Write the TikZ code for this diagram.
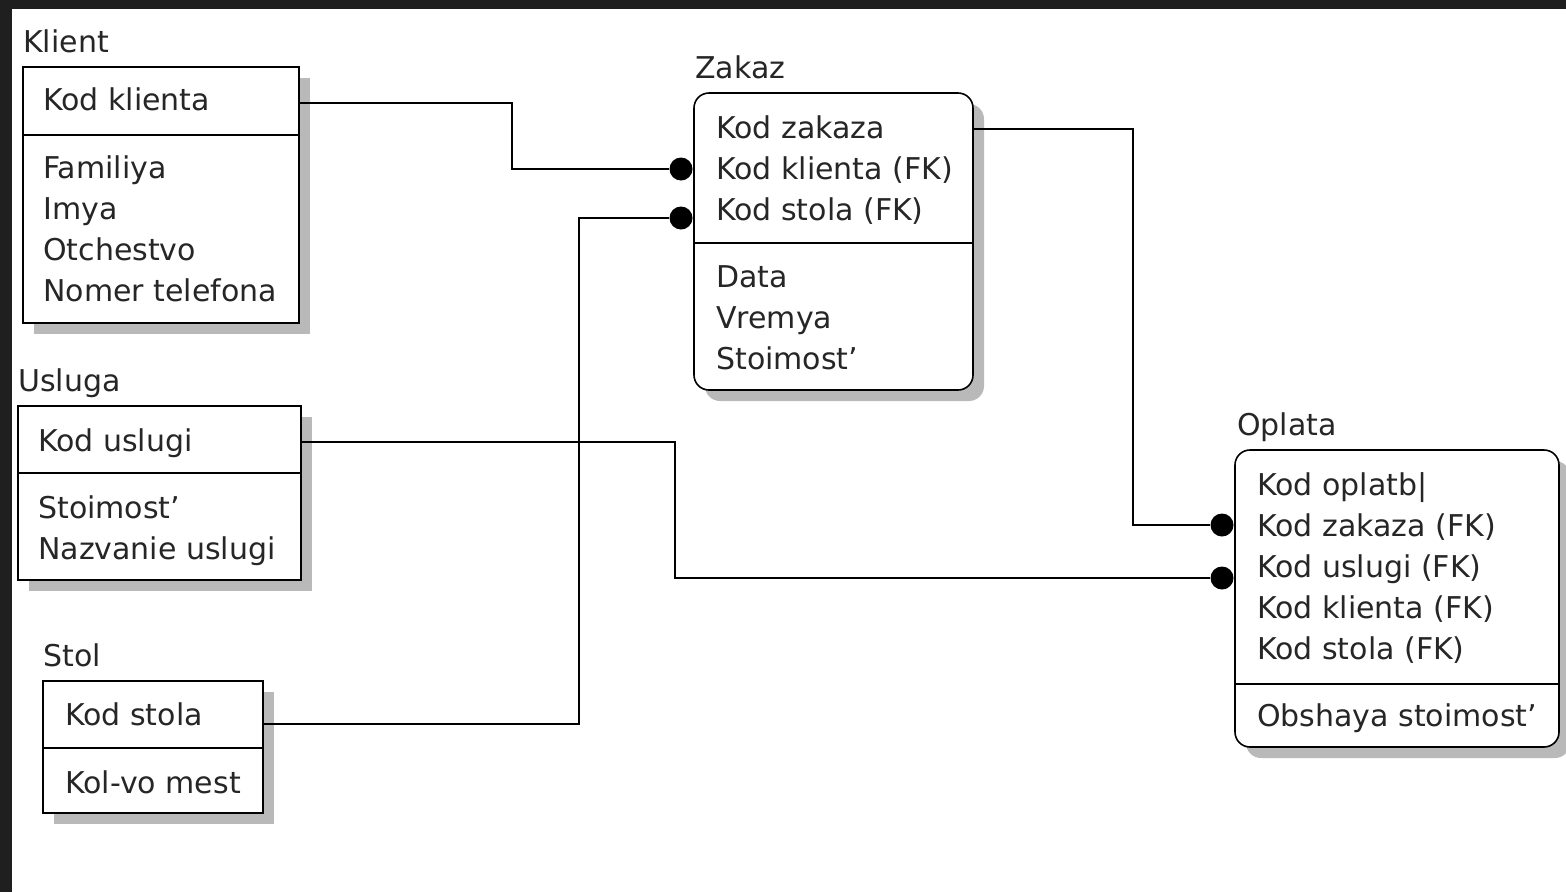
\documentclass[tikz,border=0pt]{standalone}
\usepackage{fontspec}
\setmainfont{DejaVu Sans}
\usetikzlibrary{shadows,positioning}

\begin{document}
\begin{tikzpicture}[x=1pt,y=-1pt,
    entity/.style={draw, line width=1.6pt, fill=white, anchor=north west, inner sep=0pt, outer sep=0pt,
        drop shadow={shadow xshift=11pt, shadow yshift=-11pt, fill=gray!55, opacity=1}},
    roundent/.style={entity, rounded corners=15pt},
    enttitle/.style={anchor=base west, inner sep=0pt, font=\fontsize{30}{36}\selectfont, text=black!85},
    attr/.style={enttitle},
    divider/.style={line width=1.6pt},
    conn/.style={line width=1.5pt},
    fkdot/.style={circle, fill=black, inner sep=0pt, minimum size=23pt}]

    % Background frame
    \useasboundingbox (0,0) rectangle (1566,892);
    \fill[black!88] (0,0) rectangle (1566,892);
    \fill[white] (12,9) rectangle (1566,892);

    % Klient
    \node[enttitle] (klientname) at (23,52) {Klient};
    \node[entity, minimum width=276pt, minimum height=256pt] (klient) at (23,67) {};
    \draw[divider] (klient.west |- 0,135) -- (klient.east |- 0,135);
    \node[attr] (klient-0) at (43,110) {Kod klienta};
    \foreach \t [count=\i] in {Familiya,Imya,Otchestvo,Nomer telefona}
        \node[attr] (klient-\i) at (43,{137+41*\i}) {\t};

    % Usluga
    \node[enttitle] (usluganame) at (18,391) {Usluga};
    \node[entity, minimum width=283pt, minimum height=174pt] (usluga) at (18,406) {};
    \draw[divider] (usluga.west |- 0,473) -- (usluga.east |- 0,473);
    \node[attr] (usluga-0) at (38,451) {Kod uslugi};
    \foreach \t [count=\i] in {Stoimost',Nazvanie uslugi}
        \node[attr] (usluga-\i) at (38,{477+41*\i}) {\t};

    % Stol
    \node[enttitle] (stolname) at (43,666) {Stol};
    \node[entity, minimum width=220pt, minimum height=132pt] (stol) at (43,681) {};
    \draw[divider] (stol.west |- 0,748) -- (stol.east |- 0,748);
    \node[attr] (stol-0) at (65,725) {Kod stola};
    \node[attr] (stol-1) at (65,793) {Kol-vo mest};

    % Zakaz
    \node[enttitle] (zakazname) at (695,78) {Zakaz};
    \node[roundent, minimum width=279pt, minimum height=297pt] (zakaz) at (694,93) {};
    \draw[divider] (zakaz.west |- 0,243) -- (zakaz.east |- 0,243);
    \foreach \t [count=\i] in {Kod zakaza,Kod klienta (FK),Kod stola (FK)}
        \node[attr] (zakaz-k\i) at (716,{97+41*\i}) {\t};
    \foreach \t [count=\i] in {Data,Vremya,Stoimost'}
        \node[attr] (zakaz-\i) at (716,{246+41*\i}) {\t};

    % Oplata
    \node[enttitle] (oplataname) at (1237,435) {Oplata};
    \node[roundent, minimum width=324pt, minimum height=297pt] (oplata) at (1235,450) {};
    \draw[divider] (oplata.west |- 0,684) -- (oplata.east |- 0,684);
    \foreach \t [count=\i] in {Kod oplatb|,Kod zakaza (FK),Kod uslugi (FK),Kod klienta (FK),Kod stola (FK)}
        \node[attr] (oplata-k\i) at (1257,{454+41*\i}) {\t};
    \node[attr] (oplata-1) at (1257,726) {Obshaya stoimost'};

    % FK dots
    \node[fkdot] (zakaz-fk1) at (681,169) {};
    \node[fkdot] (zakaz-fk2) at (681,218) {};
    \node[fkdot] (oplata-fk1) at (1222,525) {};
    \node[fkdot] (oplata-fk2) at (1222,578) {};

    % Relations
    \draw[conn] (klient.east |- 0,103) -| (512,169) -- (zakaz-fk1);
    \draw[conn] (stol.east |- 0,724) -| (579,218) -- (zakaz-fk2);
    \draw[conn] (zakaz.east |- 0,129) -| (1133,525) -- (oplata-fk1);
    \draw[conn] (usluga.east |- 0,442) -| (675,578) -- (oplata-fk2);
\end{tikzpicture}
\end{document}
